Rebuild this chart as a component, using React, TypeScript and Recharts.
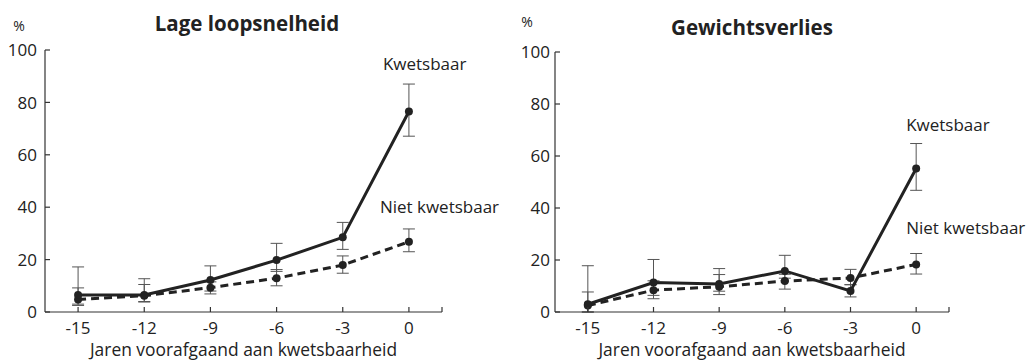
import { LineChart, Line, XAxis, YAxis, ErrorBar, LabelList } from "recharts";

const years = [-15, -12, -9, -6, -3, 0];
const xTicks = [-15, -12, -9, -6, -3, 0, 1.5];
const yTicks = [0, 20, 40, 60, 80, 100];

// Lage loopsnelheid
const gaitFrail = [6.5, 6.5, 12.2, 19.8, 28.5, 76.5];
const gaitFrailLow = [2.5, 3.8, 8.0, 15.5, 23.9, 67.1];
const gaitFrailHigh = [17.2, 12.7, 17.6, 26.2, 34.2, 87.0];
const gaitNonFrail = [4.8, 6.2, 9.3, 12.9, 17.9, 26.8];
const gaitNonFrailLow = [3.0, 4.0, 6.9, 10.0, 14.8, 23.0];
const gaitNonFrailHigh = [9.2, 10.5, 11.5, 16.2, 21.4, 31.7];

// Gewichtsverlies
const weightFrail = [3.0, 11.3, 10.8, 15.8, 8.1, 55.2];
const weightFrailLow = [0.0, 6.4, 8.0, 13.0, 5.8, 46.8];
const weightFrailHigh = [17.8, 20.2, 16.7, 21.8, 10.5, 64.8];
const weightNonFrail = [2.5, 8.4, 9.7, 11.9, 13.1, 18.3];
const weightNonFrailLow = [0.0, 5.1, 6.7, 8.8, 10.5, 14.6];
const weightNonFrailHigh = [7.7, 12.0, 14.4, 14.5, 16.4, 22.5];

const FONT = "'Open Sans', sans-serif";
const INK = "#222";
const AXIS = "#333";

function buildRows(k: number[], kLo: number[], kHi: number[], n: number[], nLo: number[], nHi: number[]) {
  return years.map((x, i) => ({
    x,
    k: k[i],
    kErr: [k[i] - kLo[i], kHi[i] - k[i]],
    n: n[i],
    nErr: [n[i] - nLo[i], nHi[i] - n[i]],
  }));
}

const XTick = (props: any) => {
  const { x, y, payload } = props;
  const last = payload.value > 0.5;
  return (
    <g>
      <line x1={x} x2={x} y1={y} y2={y - 5} stroke={AXIS} strokeWidth={1.2} />
      {!last && (
        <text x={x} y={y + 22} textAnchor="middle" fontFamily={FONT} fontSize={17} fill={INK}>
          {payload.value}
        </text>
      )}
    </g>
  );
};

const YTick = (props: any) => {
  const { x, y, payload, gap } = props;
  return (
    <g>
      <line x1={x} x2={x + 5} y1={y} y2={y} stroke={AXIS} strokeWidth={1.2} />
      <text x={x - gap} y={y} dy="0.36em" textAnchor="end" fontFamily={FONT} fontSize={17} fill={INK}>
        {payload.value}
      </text>
    </g>
  );
};

const endLabel = (text: string, dx: number, dy: number) => (props: any) => {
  const { x, y, index } = props;
  if (index !== years.length - 1) return null;
  return (
    <text x={x + dx} y={y + dy} fontFamily={FONT} fontSize={17} fill={INK}>
      {text}
    </text>
  );
};

type PanelProps = {
  left: number;
  width: number;
  margin: { top: number; right: number; bottom: number; left: number };
  yWidth: number;
  yGap: number;
  rows: any[];
  kLabel: [number, number];
  nLabel: [number, number];
};

function Panel({ left, width, margin, yWidth, yGap, rows, kLabel, nLabel }: PanelProps) {
  return (
    <div style={{ position: "absolute", left, top: 0 }}>
      <LineChart width={width} height={362} data={rows} margin={margin}>
        <XAxis
          dataKey="x"
          type="number"
          domain={[-16.5, 1.5]}
          ticks={xTicks}
          interval={0}
          height={50}
          tickSize={0}
          tickMargin={0}
          stroke={AXIS}
          strokeWidth={1.2}
          tick={<XTick />}
          label={{
            value: "Jaren voorafgaand aan kwetsbaarheid",
            position: "insideBottom",
            offset: 6,
            fontFamily: FONT,
            fontSize: 17.4,
            fill: INK,
          }}
        />
        <YAxis
          type="number"
          domain={[0, 100]}
          ticks={yTicks}
          interval={0}
          width={yWidth}
          tickSize={0}
          tickMargin={0}
          stroke={AXIS}
          strokeWidth={1.2}
          tick={<YTick gap={yGap} />}
        />
        <Line
          dataKey="n"
          stroke={INK}
          strokeWidth={3}
          strokeDasharray="8 5"
          dot={{ r: 4, fill: INK, stroke: INK, strokeWidth: 0, strokeDasharray: "" }}
          isAnimationActive={false}
        >
          <ErrorBar dataKey="nErr" width={6} stroke="#555" strokeWidth={1} direction="y" />
          <LabelList content={endLabel("Niet kwetsbaar", nLabel[0], nLabel[1])} />
        </Line>
        <Line
          dataKey="k"
          stroke={INK}
          strokeWidth={3}
          dot={{ r: 4, fill: INK, stroke: INK, strokeWidth: 0 }}
          isAnimationActive={false}
        >
          <ErrorBar dataKey="kErr" width={6} stroke="#555" strokeWidth={1} direction="y" />
          <LabelList content={endLabel("Kwetsbaar", kLabel[0], kLabel[1])} />
        </Line>
      </LineChart>
    </div>
  );
}

export default function App() {
  const gaitRows = buildRows(gaitFrail, gaitFrailLow, gaitFrailHigh, gaitNonFrail, gaitNonFrailLow, gaitNonFrailHigh);
  const weightRows = buildRows(weightFrail, weightFrailLow, weightFrailHigh, weightNonFrail, weightNonFrailLow, weightNonFrailHigh);
  return (
    <div style={{ position: "absolute", left: 0, top: 0, width: 1029, height: 362, background: "#fff" }}>
      <Panel
        left={0}
        width={520}
        margin={{ top: 50, right: 78, bottom: 0, left: 0 }}
        yWidth={45}
        yGap={8}
        rows={gaitRows}
        kLabel={[-26, -42]}
        nLabel={[-29, -29]}
      />
      <Panel
        left={520}
        width={509}
        margin={{ top: 52, right: 80, bottom: 0, left: 0 }}
        yWidth={35}
        yGap={5}
        rows={weightRows}
        kLabel={[-10, -37]}
        nLabel={[-10, -30]}
      />
      <svg width={1029} height={362} style={{ position: "absolute", left: 0, top: 0, pointerEvents: "none" }}>
        <text x={19} y={31} textAnchor="middle" fontFamily={FONT} fontSize={14} fill={INK}>%</text>
        <text x={527} y={27} textAnchor="middle" fontFamily={FONT} fontSize={14} fill={INK}>%</text>
        <text x={247} y={31} textAnchor="middle" fontFamily={FONT} fontSize={20.5} fontWeight="bold" fill={INK}>
          Lage loopsnelheid
        </text>
        <text x={752} y={35} textAnchor="middle" fontFamily={FONT} fontSize={20.5} fontWeight="bold" fill={INK}>
          Gewichtsverlies
        </text>
      </svg>
    </div>
  );
}
